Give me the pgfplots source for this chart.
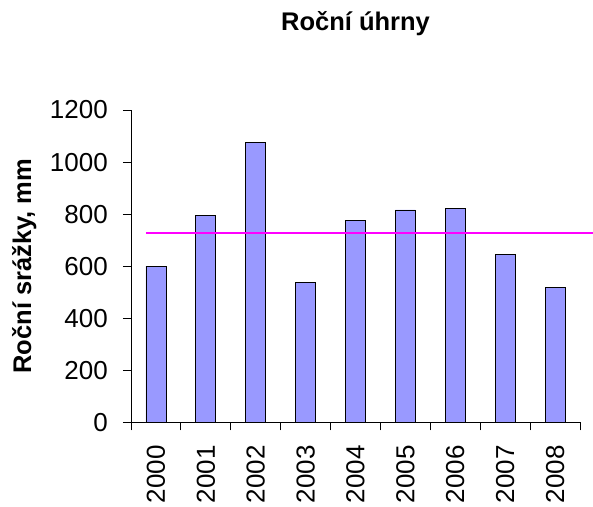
\documentclass[border=0pt]{standalone}
\usepackage{pgfplots}
\pgfplotsset{compat=1.18}
\usepackage{fontspec}
\setmainfont{Liberation Sans}
\definecolor{barfill}{RGB}{153,153,255}
\definecolor{avgline}{RGB}{255,0,255}
\begin{document}
\begin{tikzpicture}
\path[use as bounding box] (0,0) rectangle (593bp,-507bp);
\begin{axis}[
  at={(131bp,-422.3bp)}, anchor=south west,
  scale only axis, width=449bp, height=312.3bp,
  xmin=-0.5, xmax=8.5, ymin=0, ymax=1200,
  axis x line*=bottom, axis y line*=left,
  axis line style={-, black, line width=0.8bp},
  ytick={0,200,...,1200},
  xtick={0,...,8},
  xticklabels={2000,2001,2002,2003,2004,2005,2006,2007,2008},
  minor xtick={-0.5,0.5,...,8.5},
  major x tick style={draw=none},
  tick align=outside,
  major tick length=8bp, minor tick length=8bp,
  tick style={black, line width=0.8bp},
  /pgf/number format/assume math mode=true,
  /pgf/number format/1000 sep={},
  tick label style={font=\fontsize{26bp}{30bp}\selectfont},
  yticklabel style={inner sep=0pt, xshift=-15bp},
  xticklabel style={rotate=90, anchor=east, inner sep=0pt, xshift=-15bp},
  clip=false,
  title={Roční úhrny},
  title style={font=\bfseries\fontsize{25.5bp}{30bp}\selectfont, at={(axis description cs:0.5,1.2369)}, anchor=base},
  ylabel={Roční srážky, mm},
  ylabel style={font=\bfseries\fontsize{25.5bp}{30bp}\selectfont, at={(axis description cs:-0.2227,0.5)}, anchor=base},
]
\addplot[ybar, bar width=20bp, fill=barfill, draw=black, line width=0.8bp] coordinates {
  (0,600) (1,795) (2,1074) (3,536) (4,777) (5,816) (6,822) (7,644) (8,517)
};
\addplot[sharp plot, draw=avgline, line width=2bp, mark=none] coordinates {(-0.2,726) (8.76,726)};
\end{axis}
\end{tikzpicture}
\end{document}
